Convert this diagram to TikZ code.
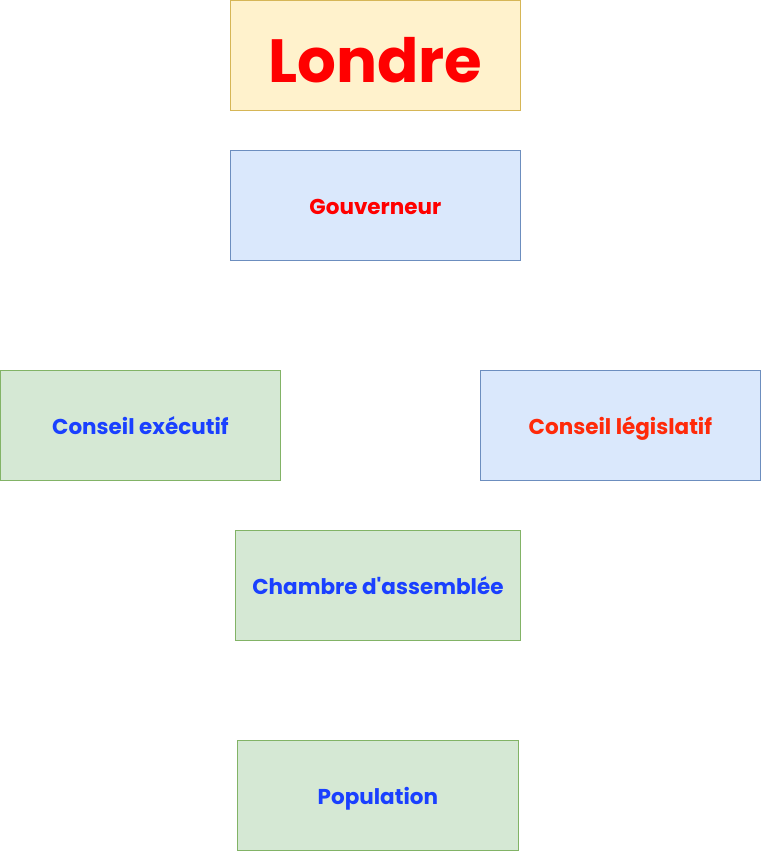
\documentclass[tikz,border=0pt]{standalone}
\usepackage{fontspec}
\setmainfont{Poppins}
\definecolor{yfill}{HTML}{FFF2CC}
\definecolor{ydraw}{HTML}{D6B656}
\definecolor{bfill}{HTML}{DAE8FC}
\definecolor{bdraw}{HTML}{6C8EBF}
\definecolor{gfill}{HTML}{D5E8D4}
\definecolor{gdraw}{HTML}{82B366}
\definecolor{txtblue}{HTML}{1A40FF}
\definecolor{txtred}{HTML}{FF0000}
\definecolor{txtred2}{HTML}{FF2A0A}
\newcommand{\dn}[2][-9pt]{\raisebox{#1}[0pt][0pt]{#2}}
\tikzset{
  box/.style={draw, line width=0.8pt, anchor=north west, inner sep=0pt, font=\bfseries\fontsize{21.5}{24}\selectfont},
  ybox/.style={box, fill=yfill, draw=ydraw},
  bbox/.style={box, fill=bfill, draw=bdraw},
  gbox/.style={box, fill=gfill, draw=gdraw},
}
\begin{document}
\begin{tikzpicture}[x=1pt,y=1pt]
\useasboundingbox (0,0) rectangle (761,-851);
\node[ybox, minimum width=290pt, minimum height=110pt, text=txtred, font=\bfseries\fontsize{61}{66}\selectfont] (londre) at (230,0) {\dn[-27pt]{Londre}};
\node[bbox, minimum width=290pt, minimum height=110pt, text=txtred] (gouv) at (230,-150) {\dn{Gouverneur}};
\node[gbox, minimum width=280pt, minimum height=110pt, text=txtblue] (exec) at (0,-370) {\dn{Conseil exécutif}};
\node[bbox, minimum width=280pt, minimum height=110pt, text=txtred2] (legis) at (480,-370) {\dn{Conseil législatif}};
\node[gbox, minimum width=285pt, minimum height=110pt, text=txtblue] (chambre) at (235,-530) {\dn{Chambre d\textquotesingle assemblée}};
\node[gbox, minimum width=281pt, minimum height=110pt, text=txtblue] (pop) at (237,-740) {\dn{Population}};
\end{tikzpicture}
\end{document}
